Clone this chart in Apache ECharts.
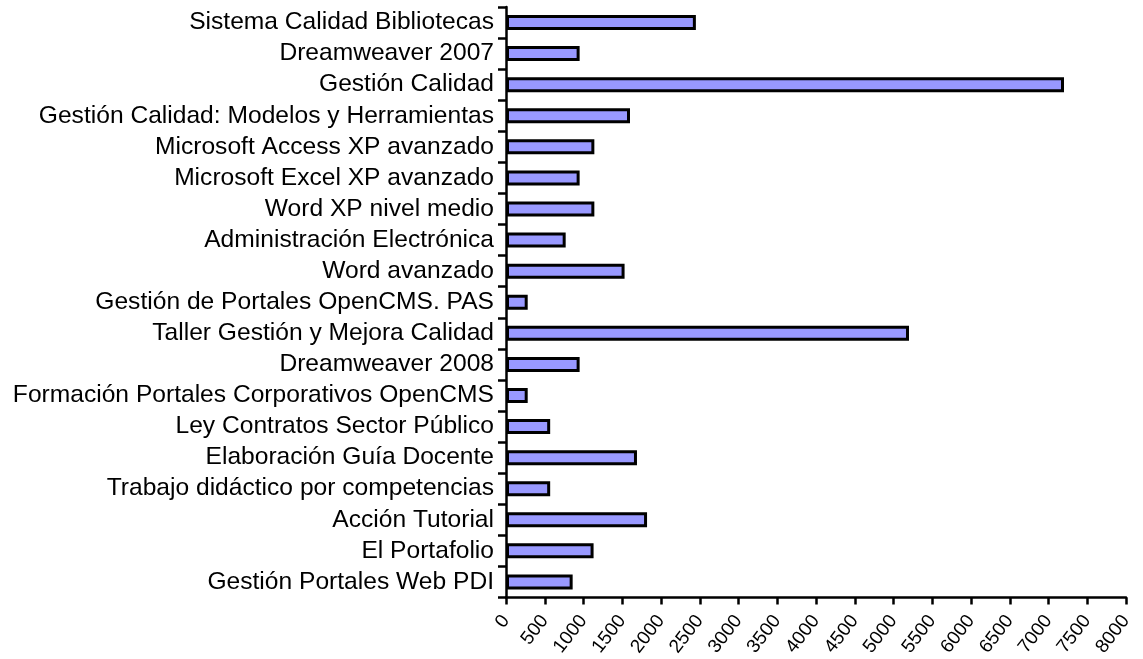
<!DOCTYPE html>
<html>
<head>
<meta charset="utf-8">
<script src="https://cdn.jsdelivr.net/npm/echarts@6/dist/echarts.min.js"></script>
<style>
  html, body { margin: 0; padding: 0; background: #fff; }
  #chart { width: 1143px; height: 659px; }
</style>
</head>
<body>
<div id="chart"></div>
<script>
// cursos, de arriba abajo
const cursos = [
  "Sistema Calidad Bibliotecas",
  "Dreamweaver 2007",
  "Gestión Calidad",
  "Gestión Calidad: Modelos y Herramientas",
  "Microsoft Access XP avanzado",
  "Microsoft Excel XP avanzado",
  "Word XP nivel medio",
  "Administración Electrónica",
  "Word avanzado",
  "Gestión de Portales OpenCMS. PAS",
  "Taller Gestión y Mejora Calidad",
  "Dreamweaver 2008",
  "Formación Portales Corporativos OpenCMS",
  "Ley Contratos Sector Público",
  "Elaboración Guía Docente",
  "Trabajo didáctico por competencias",
  "Acción Tutorial",
  "El Portafolio",
  "Gestión Portales Web PDI"
];
const valores = [2450, 950, 7200, 1600, 1140, 950, 1140, 770, 1530, 280, 5200, 950, 280, 570, 1690, 570, 1820, 1130, 860];

const chart = echarts.init(document.getElementById("chart"));
chart.setOption({
  animation: false,
  grid: { left: 506, right: 17, top: 7, bottom: 60 },
  xAxis: {
    type: "value",
    min: 0,
    max: 8000,
    interval: 500,
    splitLine: { show: false },
    axisLine: { show: true, lineStyle: { color: "#000", width: 2.5 } },
    axisTick: { show: true, length: 7, lineStyle: { color: "#000", width: 2.5 } },
    axisLabel: {
      rotate: 52,
      margin: 20,
      color: "#000",
      fontFamily: "Liberation Sans",
      fontSize: 19,
      formatter: (v) => String(v)
    }
  },
  yAxis: {
    type: "category",
    data: cursos,
    inverse: true,
    axisLine: { show: true, lineStyle: { color: "#000", width: 2.5 } },
    axisTick: { show: true, length: 8, lineStyle: { color: "#000", width: 2.5 } },
    axisLabel: {
      interval: 0,
      margin: 12,
      color: "#000",
      fontFamily: "Liberation Sans",
      fontSize: 24.6
    }
  },
  series: [{
    type: "bar",
    data: valores,
    barWidth: 15,
    itemStyle: { color: "#9999ff", borderColor: "#000", borderWidth: 3 }
  }]
});
</script>
</body>
</html>
